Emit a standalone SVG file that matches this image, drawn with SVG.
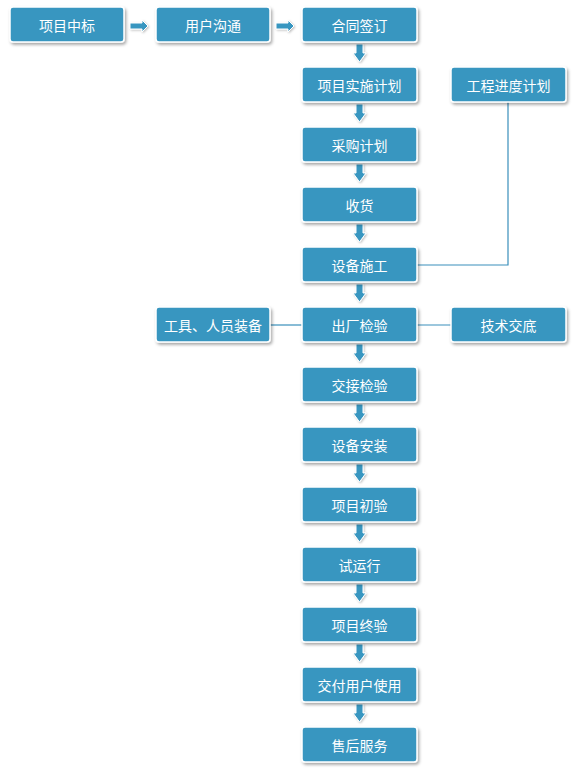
<svg xmlns="http://www.w3.org/2000/svg" width="574" height="774" viewBox="0 0 574 774">
<defs>
<filter id="sh" x="-10%" y="-20%" width="130%" height="160%">
<feDropShadow dx="1.5" dy="2" stdDeviation="1.5" flood-color="#000" flood-opacity="0.35"/>
</filter>
<filter id="sa" x="-50%" y="-50%" width="200%" height="200%">
<feDropShadow dx="1" dy="1" stdDeviation="1" flood-color="#000" flood-opacity="0.25"/>
</filter>
<path id="da" d="M-3.5,0 H3.5 V9 H6.5 L0,18 L-6.5,9 H-3.5 Z"/>
<path id="ra" d="M0,-3 V3 H12 V6 L18,0 L12,-6 V-3 Z"/>
</defs>
<style>
.b{fill:#3896c0;stroke:#fff;stroke-width:1.5;filter:url(#sh)}
.t{fill:#fff;font-family:"Noto Sans CJK SC","Noto Sans",sans-serif;font-size:14px;text-anchor:middle;dominant-baseline:central}
.ln{fill:none;stroke:#3a8fbb;stroke-width:1.2}
.ar{fill:#3896c0;stroke:#fff;stroke-width:1;filter:url(#sa)}
</style>
<rect width="574" height="774" fill="#fff"/>
<g id="connectors">
<polyline class="ln" points="508,102 508,265 417,265"/>
<line class="ln" x1="270" y1="325" x2="302" y2="325"/>
<line class="ln" x1="417" y1="325" x2="451" y2="325"/>
<use href="#ra" class="ar" x="130" y="26"/>
<use href="#ra" class="ar" x="276" y="26"/>
<use href="#da" class="ar" x="359.5" y="44"/>
<use href="#da" class="ar" x="359.5" y="104"/>
<use href="#da" class="ar" x="359.5" y="164"/>
<use href="#da" class="ar" x="359.5" y="224"/>
<use href="#da" class="ar" x="359.5" y="284"/>
<use href="#da" class="ar" x="359.5" y="344"/>
<use href="#da" class="ar" x="359.5" y="404"/>
<use href="#da" class="ar" x="359.5" y="464"/>
<use href="#da" class="ar" x="359.5" y="524"/>
<use href="#da" class="ar" x="359.5" y="584"/>
<use href="#da" class="ar" x="359.5" y="644"/>
<use href="#da" class="ar" x="359.5" y="704"/>
</g>
<g id="n1"><rect class="b" x="10" y="7" width="114" height="35" rx="3"/><text class="t" x="67" y="24.5">项目中标</text></g>
<g id="n2"><rect class="b" x="156" y="7" width="114" height="35" rx="3"/><text class="t" x="213" y="24.5">用户沟通</text></g>
<g id="n3"><rect class="b" x="302" y="7" width="115" height="35" rx="3"/><text class="t" x="359.5" y="24.5">合同签订</text></g>
<g id="n4"><rect class="b" x="302" y="67" width="115" height="35" rx="3"/><text class="t" x="359.5" y="84.5">项目实施计划</text></g>
<g id="n5"><rect class="b" x="302" y="127" width="115" height="35" rx="3"/><text class="t" x="359.5" y="144.5">采购计划</text></g>
<g id="n6"><rect class="b" x="302" y="187" width="115" height="35" rx="3"/><text class="t" x="359.5" y="204.5">收货</text></g>
<g id="n7"><rect class="b" x="302" y="247" width="115" height="35" rx="3"/><text class="t" x="359.5" y="264.5">设备施工</text></g>
<g id="n8"><rect class="b" x="302" y="307" width="115" height="35" rx="3"/><text class="t" x="359.5" y="324.5">出厂检验</text></g>
<g id="n9"><rect class="b" x="302" y="367" width="115" height="35" rx="3"/><text class="t" x="359.5" y="384.5">交接检验</text></g>
<g id="n10"><rect class="b" x="302" y="427" width="115" height="35" rx="3"/><text class="t" x="359.5" y="444.5">设备安装</text></g>
<g id="n11"><rect class="b" x="302" y="487" width="115" height="35" rx="3"/><text class="t" x="359.5" y="504.5">项目初验</text></g>
<g id="n12"><rect class="b" x="302" y="547" width="115" height="35" rx="3"/><text class="t" x="359.5" y="564.5">试运行</text></g>
<g id="n13"><rect class="b" x="302" y="607" width="115" height="35" rx="3"/><text class="t" x="359.5" y="624.5">项目终验</text></g>
<g id="n14"><rect class="b" x="302" y="667" width="115" height="35" rx="3"/><text class="t" x="359.5" y="684.5">交付用户使用</text></g>
<g id="n15"><rect class="b" x="302" y="727" width="115" height="35" rx="3"/><text class="t" x="359.5" y="744.5">售后服务</text></g>
<g id="n16"><rect class="b" x="451" y="67" width="115" height="35" rx="3"/><text class="t" x="508.5" y="84.5">工程进度计划</text></g>
<g id="n17"><rect class="b" x="451" y="307" width="115" height="35" rx="3"/><text class="t" x="508.5" y="324.5">技术交底</text></g>
<g id="n18"><rect class="b" x="156" y="307" width="114" height="35" rx="3"/><text class="t" x="213" y="324.5">工具、人员装备</text></g>
</svg>
